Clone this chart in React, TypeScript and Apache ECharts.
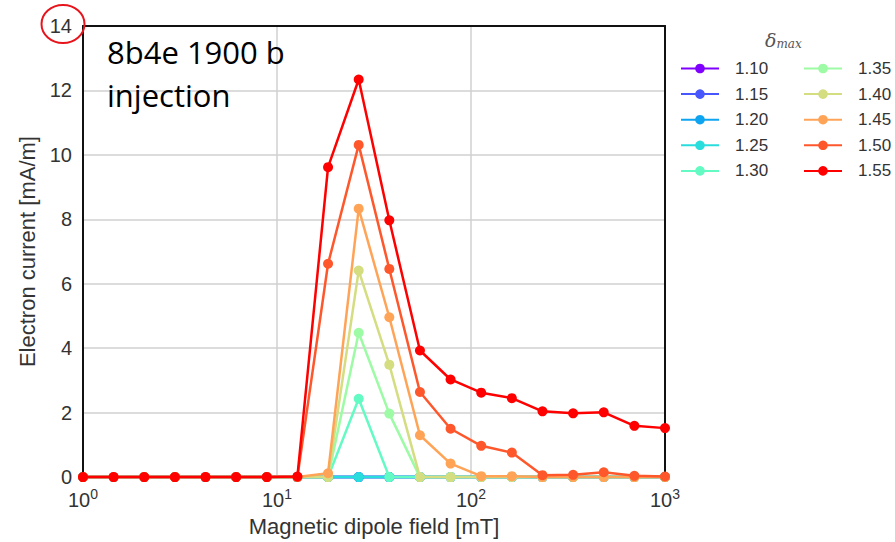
import React, { useEffect, useRef } from "react";
import * as echarts from "echarts";

const fieldValues = [1, 1.438, 2.069, 2.976, 4.281, 6.158, 8.859, 12.74, 18.33, 26.37, 37.93, 54.56, 78.48, 112.9, 162.4, 233.6, 336.0, 483.3, 695.2, 1000];

const deltaLabels = ["1.10", "1.15", "1.20", "1.25", "1.30", "1.35", "1.40", "1.45", "1.50", "1.55"];

const seriesColors = ["#8000ff", "#4757fb", "#0ea4f0", "#2adddd", "#63fbc3", "#9cfba4", "#d4dd80", "#ffa457", "#ff572c", "#ff0000"];

const current110 = [0, 0, 0, 0, 0, 0, 0, 0, 0, 0, 0, 0, 0, 0, 0, 0, 0, 0, 0, 0];
const current115 = [0, 0, 0, 0, 0, 0, 0, 0, 0, 0, 0, 0, 0, 0, 0, 0, 0, 0, 0, 0];
const current120 = [0, 0, 0, 0, 0, 0, 0, 0, 0, 0, 0, 0, 0, 0, 0, 0, 0, 0, 0, 0];
const current125 = [0, 0, 0, 0, 0, 0, 0, 0, 0, 0, 0, 0, 0, 0, 0, 0, 0, 0, 0, 0];
const current130 = [0, 0, 0, 0, 0, 0, 0, 0, 0, 2.43, 0, 0, 0, 0, 0, 0, 0, 0, 0, 0];
const current135 = [0, 0, 0, 0, 0, 0, 0, 0, 0, 4.48, 1.97, 0, 0, 0, 0, 0, 0, 0, 0, 0];
const current140 = [0, 0, 0, 0, 0, 0, 0, 0, 0, 6.41, 3.49, 0, 0, 0, 0, 0, 0, 0, 0, 0];
const current145 = [0, 0, 0, 0, 0, 0, 0, 0, 0.12, 8.33, 4.96, 1.3, 0.42, 0.03, 0.03, 0, 0, 0, 0, 0];
const current150 = [0, 0, 0, 0, 0, 0, 0, 0, 6.62, 10.31, 6.46, 2.64, 1.5, 0.97, 0.76, 0.06, 0.07, 0.15, 0.04, 0.02];
const current155 = [0, 0, 0, 0, 0, 0, 0, 0.02, 9.62, 12.34, 7.97, 3.93, 3.03, 2.62, 2.45, 2.04, 1.98, 2.01, 1.59, 1.52];

const allCurrents = [current110, current115, current120, current125, current130, current135, current140, current145, current150, current155];

const yTicks = [0, 2, 4, 6, 8, 10, 12, 14];

export default function App() {
  const ref = useRef<HTMLDivElement>(null);

  useEffect(() => {
    if (!ref.current) return;
    const chart = echarts.init(ref.current, null, { renderer: "svg" });
    const fontFamily = "'Liberation Sans', Arial, sans-serif";

    const series = allCurrents.map((vals, k) => ({
      name: deltaLabels[k],
      type: "line",
      data: fieldValues.map((x, i) => [x, vals[i]]),
      symbol: "circle",
      symbolSize: 10,
      showSymbol: true,
      clip: false,
      lineStyle: { width: 2.5, color: seriesColors[k] },
      itemStyle: { color: seriesColors[k] },
      z: 2 + k,
    }));

    const legendCommon = {
      orient: "vertical",
      top: 55,
      itemWidth: 38,
      itemHeight: 12,
      itemGap: 8.6,
      textStyle: { fontSize: 17, color: "#333", fontFamily, padding: [0, 0, 0, 11] },
    };

    const frameAxis = {
      axisLine: { show: true, onZero: false, lineStyle: { color: "#111", width: 2 } },
      axisTick: { show: false },
      axisLabel: { show: false },
      splitLine: { show: false },
      z: 10,
    };

    chart.setOption({
      animation: false,
      backgroundColor: "#fff",
      grid: {
        left: 83,
        right: 230,
        top: 26,
        bottom: 64,
        show: false,
        containLabel: false,
      },
      xAxis: [
        {
          type: "log",
          logBase: 10,
          min: 1,
          max: 1000,
          name: "Magnetic dipole field [mT]",
          nameLocation: "middle",
          nameGap: 33,
          nameTextStyle: { fontSize: 22, color: "#333", fontFamily },
          axisLine: { show: true, onZero: false, lineStyle: { color: "#111", width: 2 } },
          axisTick: { show: false },
          minorTick: { show: false },
          splitLine: { show: true, lineStyle: { color: "#d0d0d0", width: 1.5 } },
          axisLabel: {
            margin: 10,
            color: "#333",
            fontFamily,
            formatter: (v: number) => `{b|10}{s|${Math.round(Math.log10(v))}}`,
            rich: {
              b: { fontSize: 20, color: "#333", fontFamily },
              s: { fontSize: 14, color: "#333", fontFamily, padding: [0, 0, 12, 0] },
            },
          },
        },
        { type: "log", logBase: 10, min: 1, max: 1000, position: "top", ...frameAxis },
      ],
      yAxis: [
        {
          type: "value",
          min: 0,
          max: 14,
          interval: 2,
          name: "Electron current [mA/m]",
          nameLocation: "middle",
          nameGap: 42,
          nameTextStyle: { fontSize: 22, color: "#333", fontFamily },
          axisLine: { show: true, onZero: false, lineStyle: { color: "#111", width: 2 } },
          axisTick: { show: false },
          splitLine: { show: true, lineStyle: { color: "#d0d0d0", width: 1.5 } },
          axisLabel: {
            margin: 11,
            fontSize: 20,
            color: "#333",
            fontFamily,
            formatter: (v: number) => (yTicks.includes(v) ? String(v) : ""),
          },
        },
        { type: "value", min: 0, max: 14, interval: 2, position: "right", ...frameAxis },
      ],
      legend: [
        { ...legendCommon, left: 675, data: deltaLabels.slice(0, 5) },
        { ...legendCommon, left: 798, data: deltaLabels.slice(5, 10) },
      ],
      graphic: [
        {
          type: "text",
          left: 765,
          top: 30,
          style: {
            text: "{d|δ}{m|max}",
            rich: {
              d: { fontSize: 19, fontStyle: "italic", fontFamily: "'DejaVu Serif', serif", fill: "#555" },
              m: { fontSize: 12, fontStyle: "italic", fontFamily: "'DejaVu Serif', serif", fill: "#555", padding: [8, 0, 0, 0] },
            },
          },
        },
        {
          type: "text",
          x: 107,
          y: 36,
          style: {
            text: "8b4e 1900 b",
            fontSize: 31,
            fontFamily: "'Open Sans', sans-serif",
            fill: "#000",
          },
          z: 100,
        },
        {
          type: "text",
          x: 107,
          y: 79,
          style: {
            text: "injection",
            fontSize: 31,
            fontFamily: "'Open Sans', sans-serif",
            fill: "#000",
          },
          z: 100,
        },
        {
          type: "ellipse",
          shape: { cx: 63, cy: 24, rx: 21.5, ry: 19 },
          style: { fill: "none", stroke: "#e8141c", lineWidth: 2 },
          z: 100,
        },
      ],
      series,
    });

    return () => chart.dispose();
  }, []);

  return (
    <div
      ref={ref}
      style={{ position: "fixed", left: 0, top: 0, width: 895, height: 542, background: "#fff" }}
    />
  );
}
